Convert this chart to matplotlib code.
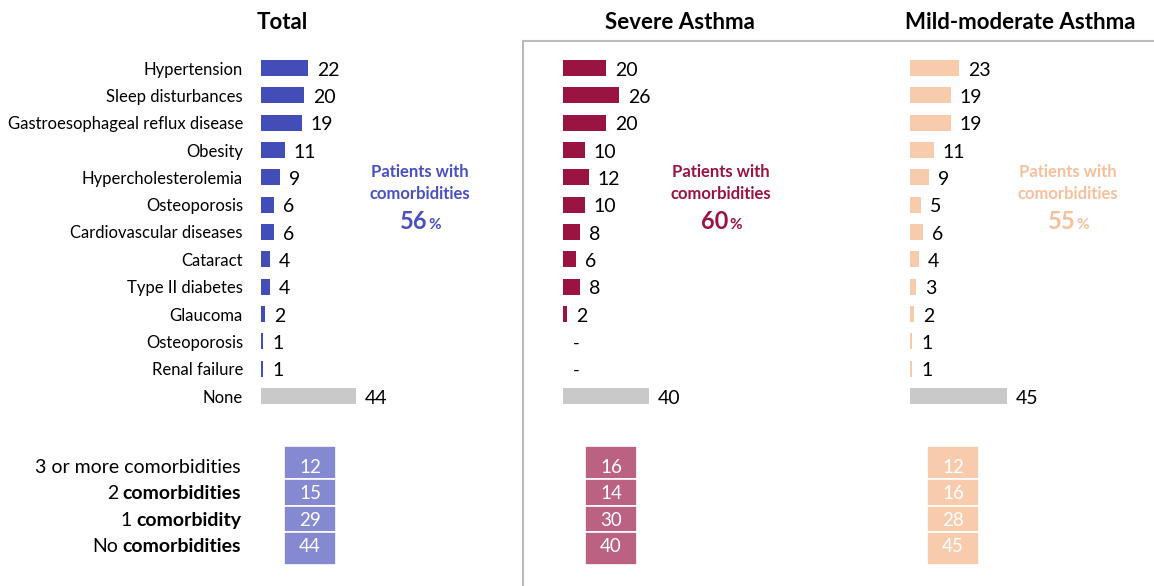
import matplotlib
matplotlib.use("Agg")
import matplotlib.pyplot as plt
from matplotlib import transforms
from matplotlib.lines import Line2D
import numpy as np

# ---------------- data ----------------
categories = ["Hypertension", "Sleep disturbances", "Gastroesophageal reflux disease",
              "Obesity", "Hypercholesterolemia", "Osteoporosis", "Cardiovascular diseases",
              "Cataract", "Type II diabetes", "Glaucoma", "Osteoporosis", "Renal failure", "None"]
total_vals = [22, 20, 19, 11, 9, 6, 6, 4, 4, 2, 1, 1, 44]
severe_vals = [20, 26, 20, 10, 12, 10, 8, 6, 8, 2, np.nan, np.nan, 40]
mild_vals = [23, 19, 19, 11, 9, 5, 6, 4, 3, 2, 1, 1, 45]

group_plain = ["3 or more comorbidities", "2", "1", "No"]
group_bold = ["", "comorbidities", "comorbidity", "comorbidities"]
total_groups = [12, 15, 29, 44]
severe_groups = [16, 14, 30, 40]
mild_groups = [12, 16, 28, 45]

titles = ["Total", "Severe Asthma", "Mild-moderate Asthma"]
patients_pct = [56, 60, 55]

# ---------------- style / layout ----------------
W, H = 1154, 586
plt.rcParams['font.family'] = ['Lato', 'DejaVu Sans']
fig = plt.figure(figsize=(W / 100, H / 100), dpi=100)

bar_colors = ["#434DB8", "#9A1441", "#F8CBAD"]
box_colors = ["#8589D1", "#BB6181", "#F8CBAD"]
note_colors = ["#4A50C0", "#9A1441", "#F6C09C"]
none_color = "#C9C9C9"

bar_x0 = [261, 563, 910]
box_x = [(284, 336), (585, 637), (927, 979)]
title_x = [282, 680, 1020]
note_x = [420, 721, 1068]
px_per_unit = 2.15
row_top, row_bot = 68, 396
n = len(categories)
row_h = (row_bot - row_top) / (n - 1)

box_row0 = 466
box_row_h = 26.5


def px_axes(x0, y0, x1, y1):
    return fig.add_axes([x0 / W, 1 - y1 / H, (x1 - x0) / W, (y1 - y0) / H])


renderer = fig.canvas.get_renderer()


def text_width_px(t):
    return t.get_window_extent(renderer=renderer).width


all_vals = [total_vals, severe_vals, mild_vals]
all_groups = [total_groups, severe_groups, mild_groups]

for p in range(3):
    vals = np.array(all_vals[p], dtype=float)
    x0 = bar_x0[p]
    ax = px_axes(x0, row_top - row_h / 2, x0 + 230, row_bot + row_h / 2)
    ax.set_xlim(0, 230 / px_per_unit)
    ax.set_ylim(n - 0.5, -0.5)
    ypos = np.arange(n)
    colors = [bar_colors[p]] * (n - 1) + [none_color]
    ax.barh(ypos, np.nan_to_num(vals), height=0.59, color=colors, linewidth=0)
    for i, v in enumerate(vals):
        if np.isnan(v):
            ax.annotate("-", (0, i), xytext=(10, -2), textcoords="offset pixels",
                        ha="left", va="center", fontsize=13, color="black")
        else:
            ax.annotate(f"{int(v)}", (v, i), xytext=(9, -2), textcoords="offset pixels",
                        ha="left", va="center", fontsize=14, color="black")
    for s in ax.spines.values():
        s.set_visible(False)
    ax.set_xticks([])
    if p == 0:
        ax.set_yticks(ypos, categories, fontsize=12)
        ax.tick_params(axis="y", length=0, pad=13)
    else:
        ax.set_yticks([])
    ax.patch.set_alpha(0)

    # stacked summary boxes
    g = all_groups[p]
    m = len(g)
    bx0, bx1 = box_x[p]
    ext = 0.75
    bax = px_axes(bx0, box_row0 - ext * box_row_h, bx1, box_row0 + (m - 1 + ext) * box_row_h)
    bax.set_xlim(0, 1)
    bax.set_ylim(m - 1 + ext, -ext)
    bottoms = np.arange(m) - 0.5
    heights = np.ones(m)
    bottoms[0] -= (ext - 0.5)
    heights[0] += (ext - 0.5)
    heights[-1] += (ext - 0.5)
    bax.bar(0.5, heights, bottom=bottoms, width=1, color=box_colors[p],
            edgecolor="white", linewidth=1.2)
    for i, v in enumerate(g):
        bax.text(0.5, i + 0.04, f"{v}", ha="center", va="center", color="white", fontsize=13.5)
    bax.axis("off")

    if p == 0:
        tr = transforms.blended_transform_factory(fig.transFigure, bax.transData)
        xr = 241
        for i in range(m):
            yv = i + 0.04
            if group_bold[i]:
                tb = fig.text(xr / W, yv, group_bold[i], transform=tr, ha="right", va="center",
                              fontsize=14, fontweight="bold")
                wb = text_width_px(tb)
                fig.text((xr - wb - 4) / W, yv, group_plain[i], transform=tr, ha="right",
                         va="center", fontsize=14)
            else:
                fig.text(xr / W, yv, group_plain[i], transform=tr, ha="right", va="center",
                         fontsize=14)

    # titles
    fig.text(title_x[p] / W, 1 - 29 / H, titles[p], ha="center", va="baseline",
             fontsize=16, fontweight="bold")

    # patients note
    fig.text(note_x[p] / W, 1 - 177 / H, "Patients with", ha="center", va="baseline",
             fontsize=12, fontweight="bold", color=note_colors[p])
    fig.text(note_x[p] / W, 1 - 199 / H, "comorbidities", ha="center", va="baseline",
             fontsize=12, fontweight="bold", color=note_colors[p])
    t1 = fig.text(0, 1 - 229 / H, f"{patients_pct[p]}", ha="left", va="baseline",
                  fontsize=17, fontweight="bold", color=note_colors[p])
    t2 = fig.text(0, 1 - 229 / H, "%", ha="left", va="baseline",
                  fontsize=11, fontweight="bold", color=note_colors[p])
    w1 = text_width_px(t1)
    w2 = text_width_px(t2)
    left = note_x[p] - (w1 + w2) / 2
    t1.set_x(left / W)
    t2.set_x((left + w1 + 0.5) / W)

# divider lines
line_c = "#BBBBBB"
fig.add_artist(Line2D([523 / W, 523 / W], [0, 1 - 41 / H], transform=fig.transFigure,
                      color=line_c, linewidth=1.5))
fig.add_artist(Line2D([523 / W, 1], [1 - 41 / H, 1 - 41 / H], transform=fig.transFigure,
                      color=line_c, linewidth=1.5))

fig.savefig("out.png", dpi=100)
